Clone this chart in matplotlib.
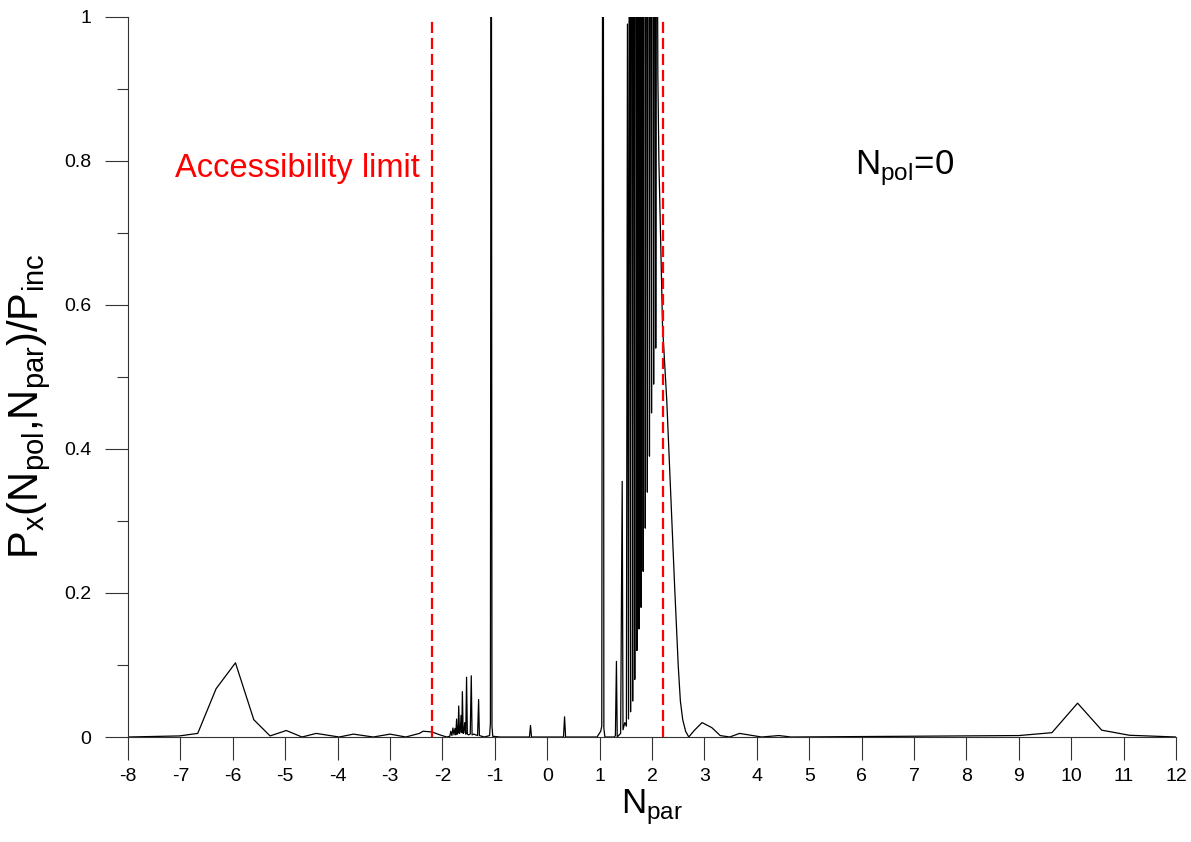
import numpy as np
import matplotlib
matplotlib.use('Agg')
import matplotlib.pyplot as plt

plt.rcParams['font.family'] = ['Liberation Sans', 'DejaVu Sans']
plt.rcParams['axes.unicode_minus'] = False

# Datos: N_par y P_x/P_inc por tramos
# ala izquierda (cola de baja N_par negativa)
n_izq = [-8.0, -7.67, -7.34, -7.02, -6.67, -6.32, -5.95, -5.60, -5.29, -4.98,
         -4.68, -4.41, -3.97, -3.70, -3.32, -3.00, -2.70, -2.44, -2.37, -2.20,
         -2.05, -1.92]
p_izq = [0.0, 0.0005, 0.001, 0.0015, 0.005, 0.067, 0.103, 0.024, 0.0015, 0.009,
         0.0, 0.005, 0.0, 0.004, 0.0, 0.004, 0.0, 0.005, 0.008, 0.007,
         0.003, 0.0]

# picos pequenos entre -1.9 y 0.4
n_picos = [-1.86, -1.84, -1.82, -1.80, -1.78, -1.76, -1.745, -1.73, -1.715, -1.70,
           -1.69, -1.675, -1.66, -1.645, -1.63, -1.62, -1.605, -1.59, -1.575, -1.555,
           -1.54, -1.525, -1.50, -1.47, -1.45, -1.435, -1.40, -1.33, -1.31, -1.295,
           -1.20, -1.10, -1.085, -1.07, -1.055, -1.04, -0.90, -0.34, -0.32, -0.30,
           0.31, 0.33, 0.35]
p_picos = [0.001, 0.008, 0.002, 0.0125, 0.003, 0.012, 0.003, 0.025, 0.004, 0.006,
           0.043, 0.005, 0.008, 0.03, 0.006, 0.063, 0.005, 0.006, 0.02, 0.004,
           0.083, 0.004, 0.003, 0.004, 0.085, 0.003, 0.004, 0.002, 0.052, 0.002,
           0.0, 0.002, 0.02, 1.6, 0.015, 0.001, 0.0, 0.0, 0.016, 0.0,
           0.0, 0.028, 0.0]

# banda principal (1 < N_par < 2.2), muchos picos que se salen de la escala
n_banda = [0.95, 1.02, 1.04, 1.065, 1.08, 1.10, 1.28, 1.30, 1.32, 1.335,
           1.40, 1.43, 1.445, 1.48, 1.51, 1.53, 1.55, 1.57, 1.59, 1.61,
           1.63, 1.65, 1.67, 1.69, 1.71, 1.73, 1.75, 1.77, 1.79, 1.81,
           1.83, 1.85, 1.87, 1.89, 1.91, 1.93, 1.95, 1.97, 1.99, 2.01,
           2.03, 2.05, 2.07, 2.09, 2.11, 2.13]
p_banda = [0.0, 0.008, 0.015, 1.8, 0.012, 0.0, 0.0, 0.002, 0.105, 0.0,
           0.005, 0.355, 0.01, 0.02, 0.015, 0.99, 0.025, 1.7, 0.035, 2.3,
           0.05, 1.9, 0.08, 2.6, 0.12, 2.0, 0.15, 2.8, 0.18, 2.2,
           0.23, 2.9, 0.29, 2.1, 0.34, 2.6, 0.39, 1.9, 0.45, 2.4,
           0.49, 1.7, 0.54, 1.4, 0.92, 0.80]

# cola derecha
n_der = [2.20, 2.28, 2.36, 2.43, 2.50, 2.54, 2.585, 2.64, 2.70, 2.81,
         2.955, 3.14, 3.30, 3.48, 3.67, 4.09, 4.42, 4.65, 9.00, 9.63,
         10.12, 10.58, 11.11, 12.0]
p_der = [0.57, 0.468, 0.33, 0.21, 0.098, 0.05, 0.024, 0.008, 0.0, 0.0095,
         0.020, 0.013, 0.002, 0.0, 0.005, 0.0, 0.002, 0.0, 0.002, 0.006,
         0.047, 0.0095, 0.0024, 0.0]

limite_acc = [-2.2, 2.2]

x = np.array(n_izq + n_picos + n_banda + n_der)
y = np.array(p_izq + p_picos + p_banda + p_der)

fig = plt.figure(figsize=(11.91, 8.42), dpi=100)
ax = fig.add_axes([0.1075, 0.1247, 0.88, 0.8553])

ax.plot(x, y, color='black', lw=0.9)

for xl in limite_acc:
    ax.plot([xl, xl], [0, 1], color='red', lw=1.6, dashes=(5, 2.2))

ax.set_xlim(-8, 12)
ax.set_ylim(0, 1)

ax.set_xticks(np.arange(-8, 13, 1))
ax.set_xticklabels([str(v) for v in range(-8, 13)])
ax.set_yticks([0, 0.2, 0.4, 0.6, 0.8, 1.0])
ax.set_yticklabels(['0', '0.2', '0.4', '0.6', '0.8', '1'])
ax.set_yticks(np.arange(0.1, 1.0, 0.2), minor=True)

ax.spines['top'].set_visible(False)
ax.spines['right'].set_visible(False)
for s in ['left', 'bottom']:
    ax.spines[s].set_color('#333333')
    ax.spines[s].set_linewidth(0.8)

ax.tick_params(axis='both', which='major', direction='out', length=16.5,
               width=0.8, color='#333333', labelsize=14)
ax.tick_params(axis='y', which='minor', direction='out', length=8,
               width=0.8, color='#333333')
ax.tick_params(axis='y', which='major', pad=10)
ax.tick_params(axis='x', which='major', pad=6)

ax.set_xlabel(r'N$_{\mathregular{par}}$', fontsize=25, labelpad=2)
ax.set_ylabel(r'P$_{\mathregular{x}}$(N$_{\mathregular{pol}}$,N$_{\mathregular{par}}$)/P$_{\mathregular{inc}}$',
              fontsize=30)
ax.yaxis.set_label_coords(-0.072, 0.46)

ax.text(-7.1, 0.79, 'Accessibility limit', color='red', fontsize=23.5,
        ha='left', va='center')
ax.text(5.87, 0.79, r'N$_{\mathregular{pol}}$=0', color='black', fontsize=25,
        ha='left', va='center')

plt.savefig('out.png', dpi=100)
